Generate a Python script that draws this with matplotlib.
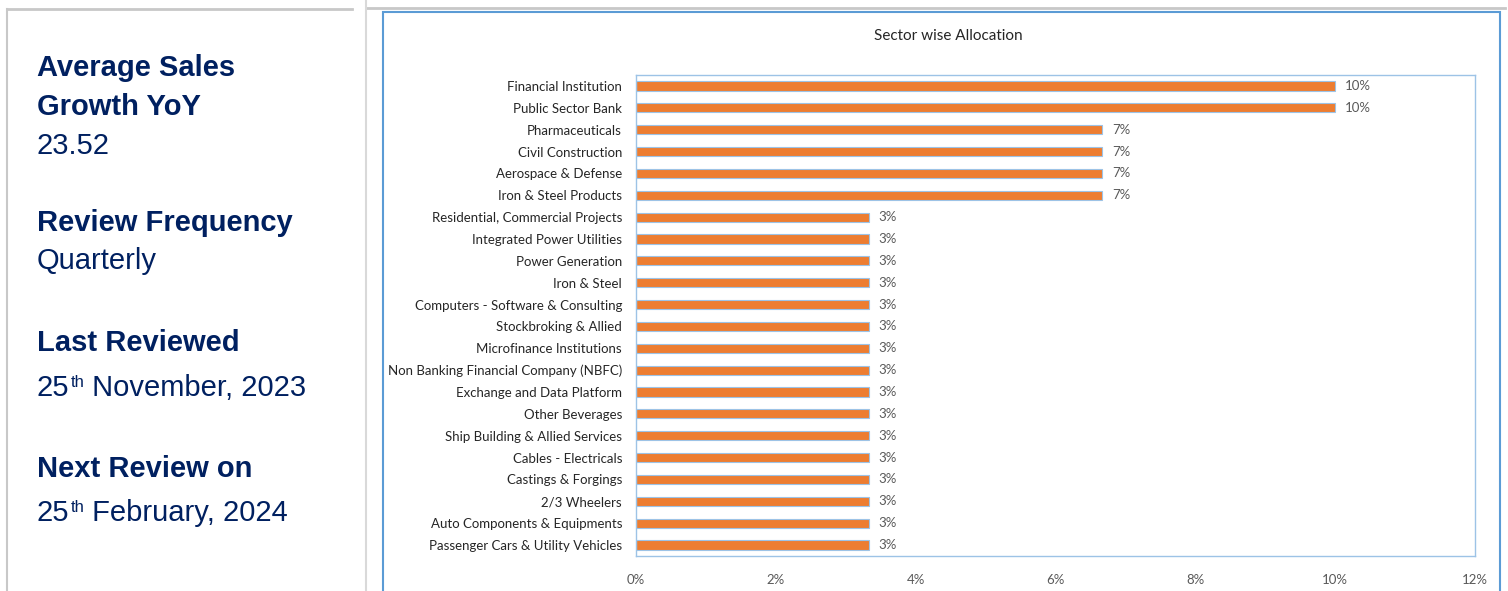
import matplotlib
matplotlib.use("Agg")
import matplotlib.pyplot as plt
from matplotlib.lines import Line2D
from matplotlib.patches import Rectangle

# ---- data ----
categories = [
    "Financial Institution", "Public Sector Bank", "Pharmaceuticals",
    "Civil Construction", "Aerospace & Defense", "Iron & Steel Products",
    "Residential, Commercial Projects", "Integrated Power Utilities",
    "Power Generation", "Iron & Steel", "Computers - Software & Consulting",
    "Stockbroking & Allied", "Microfinance Institutions",
    "Non Banking Financial Company (NBFC)", "Exchange and Data Platform",
    "Other Beverages", "Ship Building & Allied Services",
    "Cables - Electricals", "Castings & Forgings", "2/3 Wheelers",
    "Auto Components & Equipments", "Passenger Cars & Utility Vehicles",
]
values = [10.0, 10.0, 6.67, 6.67, 6.67, 6.67] + [3.33] * 16
value_labels = ["10%", "10%", "7%", "7%", "7%", "7%"] + ["3%"] * 16
x_ticks = [0, 2, 4, 6, 8, 10, 12]
x_tick_labels = ["0%", "2%", "4%", "6%", "8%", "10%", "12%"]

info_items = [
    ("Average Sales", "bold"), ("Growth YoY", "bold"), ("23.52", "normal"),
    ("Review Frequency", "bold"), ("Quarterly", "normal"),
    ("Last Reviewed", "bold"), ("Next Review on", "bold"),
]
info_baselines = [76, 115, 154, 231, 269, 351, 477]
date_items = [("25", "th", " November, 2023"), ("25", "th", " February, 2024")]
date_baselines = [396, 521]

W, H = 1508, 591
fig = plt.figure(figsize=(W / 100, H / 100), dpi=100)
fig.patch.set_facecolor("white")

def fx(px):
    return px / W

def fy(py):
    return 1 - py / H

# decorative frame lines
gray = "#C8C8C8"
fig.add_artist(Line2D([fx(7), fx(352)], [fy(9), fy(9)], color=gray, lw=2))
fig.add_artist(Line2D([fx(366), fx(1505)], [fy(8), fy(8)], color=gray, lw=2))
fig.add_artist(Line2D([fx(7), fx(7)], [fy(9), fy(591)], color=gray, lw=1.5))
fig.add_artist(Line2D([fx(366), fx(366)], [fy(0), fy(591)], color="#D9D9D9", lw=1.5))
# chart outer box
fig.add_artist(Rectangle((fx(383), fy(600)), fx(1500 - 383), fy(12) - fy(600),
                         fill=False, edgecolor="#5B9BD5", lw=1.5))

# left info panel
navy = "#002060"
FS = 21
for (txt, wt), y in zip(info_items, info_baselines):
    fig.text(fx(37), fy(y), txt, fontsize=FS, fontweight=wt, color=navy,
             family="Liberation Sans", va="baseline", ha="left")

renderer = fig.canvas.get_renderer()
for (a, sup, rest), y in zip(date_items, date_baselines):
    t1 = fig.text(fx(37), fy(y), a, fontsize=FS, color=navy,
                  family="Liberation Sans", va="baseline", ha="left")
    x1 = t1.get_window_extent(renderer).x1
    t2 = fig.text(fx(x1 + 1), fy(y - 9), sup, fontsize=12, color=navy,
                  family="Liberation Sans", va="baseline", ha="left")
    x2 = t2.get_window_extent(renderer).x1
    fig.text(fx(x2), fy(y), rest, fontsize=FS, color=navy,
             family="Liberation Sans", va="baseline", ha="left")

# chart
ax = fig.add_axes([fx(636), fy(556), fx(1475 - 636), fy(75) - fy(556)])
ypos = list(range(len(categories)))
ax.barh(ypos, values, height=0.42, color="#ED7D31", edgecolor="#9DC3E6", linewidth=0.8)
ax.set_ylim(len(categories) - 0.5, -0.5)
ax.set_xlim(0, 12)
ax.set_xticks(x_ticks)
ax.set_xticklabels(x_tick_labels, color="#595959", fontsize=9.5, family="Lato")
ax.set_yticks(ypos)
ax.set_yticklabels(categories, color="#262626", fontsize=9.5, family="Lato")
ax.tick_params(axis="both", length=0)
ax.tick_params(axis="x", pad=13)
ax.tick_params(axis="y", pad=10)
for s in ax.spines.values():
    s.set_color("#9DC3E6")
    s.set_linewidth(1.0)
for y, v, lab in zip(ypos, values, value_labels):
    ax.annotate(lab, (v, y), xytext=(7, 0), textcoords="offset points",
                va="center", ha="left", fontsize=9.5, color="#595959", family="Lato")

fig.text(fx(948), fy(36), "Sector wise Allocation", fontsize=11, color="#262626",
         family="Lato", ha="center", va="center")

fig.savefig("out.png", dpi=100)
